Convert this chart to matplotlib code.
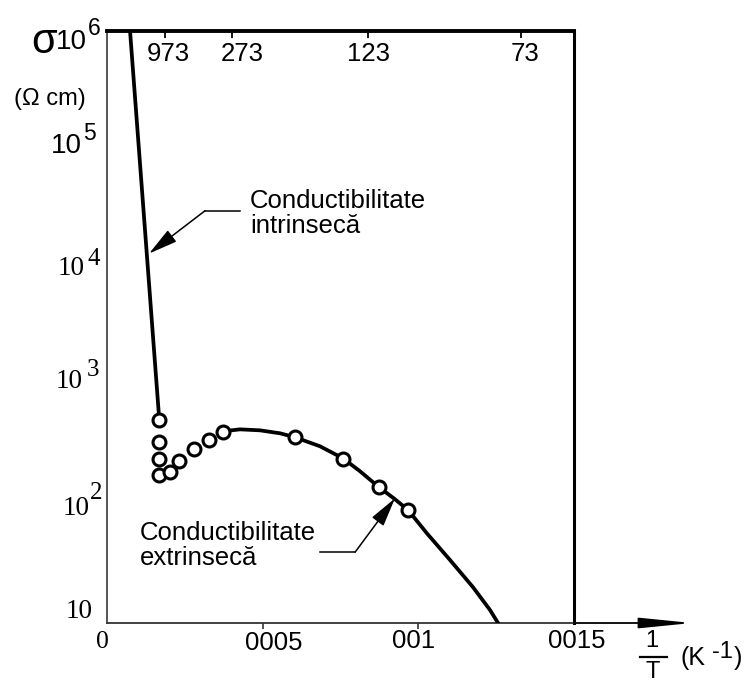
import matplotlib
matplotlib.use("Agg")
import matplotlib.pyplot as plt
from matplotlib.ticker import NullLocator

SANS = "Liberation Sans"
SERIF = "Liberation Serif"

# intrinsic conduction branch (straight line)
intr_x = [0.000074, 0.000168]
intr_y = [1e6, 515]

# measured points (open circles)
pts_x = [0.000168, 0.000166, 0.000167, 0.000166, 0.000202, 0.000232, 0.000279,
         0.000329, 0.000374, 0.000604, 0.000757, 0.000875, 0.000968]
pts_y = [515, 338, 245, 177, 189, 232, 292, 354, 410, 372, 245, 141, 90]

# extrinsic conduction curve
curve_x = [0.000373, 0.000427, 0.000491, 0.000556, 0.000604, 0.000684, 0.000758,
           0.000813, 0.000874, 0.000925, 0.000967, 0.001028, 0.001102, 0.001176,
           0.00123, 0.001256]
curve_y = [416, 432, 424, 400, 370, 311, 246, 191, 140, 111, 90, 57, 34, 20,
           12.9, 10]

# axis labels
y_vals = [1e6, 1e5, 1e4, 1e3, 1e2, 10]
y_exps = ["6", "5", "4", "3", "2", ""]
x_ticks = [0, 0.0005, 0.001, 0.0015]
x_labels = ["0", "0005", "001", "0015"]
top_ticks = [0.000186, 0.000401, 0.000838, 0.00133]
top_labels = ["973", "273", "123", "73"]

fig = plt.figure(figsize=(7.44, 6.82), dpi=100)
ax = fig.add_axes([107 / 744, 59 / 682, 467 / 744, 592 / 682])
ax.set_yscale("log")
ax.set_xlim(0, 0.0015)
ax.set_ylim(10, 1e6)

ax.plot(intr_x, intr_y, color="black", lw=2.7, solid_capstyle="butt", zorder=3)
ax.plot(curve_x, curve_y, color="black", lw=2.7, solid_joinstyle="round", zorder=3)
ax.plot(pts_x, pts_y, "o", ms=9.3, mfc="white", mec="black", mew=2.2, zorder=4)

# frame
ax.spines["left"].set_color("#555555")
ax.spines["left"].set_linewidth(1.4)
ax.spines["bottom"].set_color("#333333")
ax.spines["bottom"].set_linewidth(1.3)
ax.spines["top"].set_linewidth(2.8)
ax.spines["right"].set_linewidth(2.2)

ax.yaxis.set_major_locator(NullLocator())
ax.yaxis.set_minor_locator(NullLocator())
ax.set_xticks(x_ticks[1:3])
ax.set_xticklabels(["", ""])
ax.tick_params(axis="x", direction="out", length=4, width=1.2, color="#333333")

sec = ax.secondary_xaxis("top")
sec.set_xticks(top_ticks)
sec.set_xticklabels(["" for _ in top_labels])
sec.tick_params(direction="in", length=5, width=1.3)
sec.spines["top"].set_visible(False)

# x-axis arrow
ax.annotate("", xy=(1.2527, 0), xytext=(1.0, 0), xycoords="axes fraction",
            annotation_clip=False,
            arrowprops=dict(arrowstyle="-|>,head_length=1.6,head_width=0.16",
                            mutation_scale=20, lw=1.3, color="black",
                            shrinkA=0, shrinkB=0))

# y labels: "10" plus exponent
base_off = [(-20, -11), (-25, 3), (-22, -0.5), (-24, 4.5), (-17, -3.5), (-14, 11.5)]
exp_off = [(-19, 2.5), (-24, 15.5), (-20, 8.5), (-20, 16), (-17, 11.5), (0, 0)]
y_fonts = [SANS, SANS, SERIF, SERIF, SERIF, SERIF]
for v, e, bo, eo, fam in zip(y_vals, y_exps, base_off, exp_off, y_fonts):
    size = 20 if fam == SANS else 19.5
    ax.annotate("10", xy=(0, v), xycoords=("axes fraction", "data"),
                xytext=bo, textcoords="offset pixels", ha="right", va="center",
                fontsize=size, family=fam, annotation_clip=False)
    if e:
        ax.annotate(e, xy=(0, v), xycoords=("axes fraction", "data"),
                    xytext=eo, textcoords="offset pixels", ha="left", va="center",
                    fontsize=16.5 if fam == SANS else 18, family=fam,
                    annotation_clip=False)

# bottom labels
xl_off = [(-4.5, -18.5), (11, -19.5), (-5, -18.5), (3, -18)]
xl_fonts = [SERIF, SANS, SANS, SANS]
for v, lab, off, fam in zip(x_ticks, x_labels, xl_off, xl_fonts):
    ax.annotate(lab, xy=(v, 0), xycoords=("data", "axes fraction"),
                xytext=off, textcoords="offset pixels", ha="center", va="center",
                fontsize=18.5, family=fam, annotation_clip=False)

# top labels (inside the frame)
tl_off = [3.5, 10, 1, 3.5]
for v, lab, dx in zip(top_ticks, top_labels, tl_off):
    ax.annotate(lab, xy=(v, 1), xycoords=("data", "axes fraction"),
                xytext=(dx, -23), textcoords="offset pixels", ha="center",
                va="center", fontsize=18.5, family=SANS)

# sigma and units
fig.text(44.5 / 744, 1 - 42 / 682, "σ", fontsize=30, family=SANS,
         ha="center", va="center")
fig.text(50 / 744, 1 - 99 / 682, "(Ω cm)", fontsize=17, family=SANS,
         ha="center", va="center")

# 1/T (K-1)
fig.text(652 / 744, 1 - 641 / 682, "1", fontsize=17, family=SANS,
         ha="center", va="center")
fig.add_artist(plt.Line2D([640 / 744, 667 / 744], [1 - 657 / 682, 1 - 657 / 682],
                          color="black", lw=1.6))
fig.text(652.5 / 744, 1 - 672 / 682, "T", fontsize=17, family=SANS,
         ha="center", va="center")
fig.text(680 / 744, 1 - 658 / 682, "(K", fontsize=18, family=SANS,
         ha="left", va="center")
fig.text(712 / 744, 1 - 652 / 682, "-1", fontsize=17, family=SANS,
         ha="left", va="center")
fig.text(734 / 744, 1 - 658 / 682, ")", fontsize=18, family=SANS,
         ha="left", va="center")

# annotations
ax.text(0.306, 0.692, "Conductibilitate\nintrinsecă", transform=ax.transAxes,
        fontsize=18.5, family=SANS, ha="left", va="center", linespacing=1.05)
ax.plot([0.000427, 0.000315], [30340, 30340], color="black", lw=1.1)
ax.annotate("", xy=(0.000135, 13180), xytext=(0.000315, 30340),
            arrowprops=dict(arrowstyle="-|>,head_length=0.9,head_width=0.22",
                            mutation_scale=20, lw=1.1, color="black",
                            shrinkA=0, shrinkB=0))

ax.text(0.0707, 0.1315, "Conductibilitate\nextrinsecă", transform=ax.transAxes,
        fontsize=18.5, family=SANS, ha="left", va="center", linespacing=1.05)
ax.plot([0.000684, 0.000797], [39.7, 39.7], color="black", lw=1.1)
ax.annotate("", xy=(0.000925, 113), xytext=(0.000797, 39.7),
            arrowprops=dict(arrowstyle="-|>,head_length=0.9,head_width=0.22",
                            mutation_scale=20, lw=1.1, color="black",
                            shrinkA=0, shrinkB=0))

fig.savefig("out.png", dpi=100)
